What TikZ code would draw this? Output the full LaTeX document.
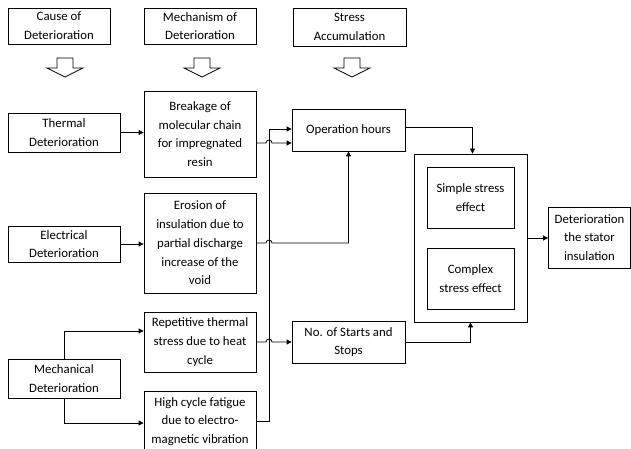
\documentclass[tikz,border=0pt]{standalone}
\usepackage{fontspec}
\setmainfont{Carlito}
\usepackage{tikz}
\usetikzlibrary{calc, arrows.meta}
\usepackage{xcolor}
\definecolor{LineBlack}{HTML}{000000}

\tikzset{
  blk/.style={draw=LineBlack, line width=0.8pt, align=center, inner sep=1pt,
    font=\fontsize{12.8}{18.7}\selectfont},
  link/.style={draw=LineBlack, line width=0.8pt, -{Triangle[length=5pt, width=5pt]}},
  hollow/.style={draw=LineBlack, line width=0.8pt, fill=white},
}

\begin{document}
\begin{tikzpicture}[x=1pt, y=1pt]
          \useasboundingbox (0,0) rectangle (631,-449);
          % headers
          \node[blk, minimum width=102, minimum height=36] (cause) at (59,-26) {Cause of\\Deterioration};
          \node[blk, minimum width=112, minimum height=36] (mech) at (200,-26) {Mechanism of\\Deterioration};
          \node[blk, minimum width=113, minimum height=38] (stress) at (349.5,-27) {Stress\\Accumulation};
          \foreach \ax in {65,202,352}{
            \draw[hollow] (\ax-8,-58) -- (\ax+8,-58) -- (\ax+8,-68) -- (\ax+18,-68)
              -- (\ax,-77) -- (\ax-18,-68) -- (\ax-8,-68) -- cycle;
          }
          % causes
          \node[blk, minimum width=112, minimum height=39] (thermal) at (64,-132.5) {Thermal\\Deterioration};
          \node[blk, minimum width=112, minimum height=36] (electrical) at (64,-244) {Electrical\\Deterioration};
          \node[blk, minimum width=112, minimum height=39] (mechanical) at (64,-378.5) {Mechanical\\Deterioration};
          % mechanisms
          \node[blk, minimum width=112, minimum height=86] (breakage) at (200,-134) {Breakage of\\molecular chain\\for impregnated\\resin};
          \node[blk, minimum width=112, minimum height=100] (erosion) at (200,-243) {Erosion of\\insulation due to\\partial discharge\\increase of the\\void};
          \node[blk, minimum width=112, minimum height=60] (repetitive) at (200,-342) {Repetitive thermal\\stress due to heat\\cycle};
          \node[blk, minimum width=112, minimum height=60] (highcycle) at (200,-421.5) {High cycle fatigue\\due to electro-\\magnetic vibration};
          % stress accumulation
          \node[blk, minimum width=113, minimum height=42] (ophours) at (348.5,-130) {Operation hours};
          \node[blk, minimum width=113, minimum height=42] (starts) at (348.5,-342) {No. of Starts and\\Stops};
          \node[blk, minimum width=113, minimum height=168] (group) at (470.5,-238) {};
          \node[blk, minimum width=87, minimum height=61] (simple) at (470.5,-197.5) {Simple stress\\effect};
          \node[blk, minimum width=87, minimum height=61] (complex) at (470.5,-278.5) {Complex\\stress effect};
          \node[blk, minimum width=82, minimum height=61] (result) at (589.5,-237.5) {Deterioration\\the stator\\insulation};
          % connectors
          \coordinate (bus) at (269,-129);
          \draw[link] (thermal.east) -- (thermal.east -| breakage.west);
          \draw[link] (electrical.east) -- (electrical.east -| erosion.west);
          \draw[link] (mechanical.north) |- ($(repetitive.west)+(0,11)$);
          \draw[link] (mechanical.south) |- ($(highcycle.west)+(0,-1.5)$);
          \draw[link] (highcycle.east) -| (bus) -- (bus -| ophours.west);
          \draw[link] ($(breakage.east)+(0,-9)$) coordinate (b1) -- ($(bus |- b1)+(-3,0)$)
            arc[start angle=180, end angle=0, radius=3] -- (b1 -| ophours.west);
          \draw[link] (erosion.east) -- ($(bus |- erosion.east)+(-3,0)$)
            arc[start angle=180, end angle=0, radius=3] -| (ophours.south);
          \draw[link] (repetitive.east) -- ($(bus |- repetitive.east)+(-3,0)$)
            arc[start angle=180, end angle=0, radius=3] -- (starts.west);
          \draw[link] ($(ophours.east)+(0,3)$) -| ($(group.north)+(2,0)$);
          \draw[link] (starts.east) -| (group.south);
          \draw[link] (group.east) -- (group.east -| result.west);
        \end{tikzpicture}
\end{document}
